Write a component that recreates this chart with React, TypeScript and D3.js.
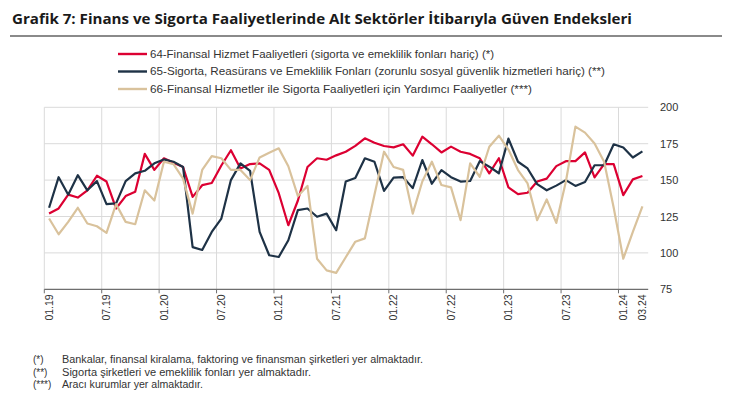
import React from "react";
import * as d3 from "d3";

const labels: string[] = [
  "01.19","02.19","03.19","04.19","05.19","06.19","07.19","08.19","09.19","10.19","11.19","12.19",
  "01.20","02.20","03.20","04.20","05.20","06.20","07.20","08.20","09.20","10.20","11.20","12.20",
  "01.21","02.21","03.21","04.21","05.21","06.21","07.21","08.21","09.21","10.21","11.21","12.21",
  "01.22","02.22","03.22","04.22","05.22","06.22","07.22","08.22","09.22","10.22","11.22","12.22",
  "01.23","02.23","03.23","04.23","05.23","06.23","07.23","08.23","09.23","10.23","11.23","12.23",
  "01.24","02.24","03.24",
];

const tickLabels: string[] = ["01.19","07.19","01.20","07.20","01.21","07.21","01.22","07.22","01.23","07.23","01.24","03.24"];
const gridLabels: string[] = ["01.19","07.19","01.20","07.20","01.21","07.21","01.22","07.22","01.23","07.23","01.24"];

const s64: number[] = [
  127, 130.5, 140, 138, 143, 153, 149, 130.5, 139, 142, 168, 157,
  165, 162, 159, 138.5, 146.5, 148, 160, 170.5, 158, 161, 161.5, 157,
  141, 119, 136, 159, 165, 164, 167, 169.5, 173.5, 178.7, 175.7, 173.4,
  172.5, 174.6, 166.8, 179.8, 174.6, 169, 173, 169.5, 168, 165, 154.6, 165,
  145, 140.4, 141.3, 149, 151, 159.6, 163, 163, 169, 151.8, 161, 161,
  139.7, 150.5, 152.8,
];
const s65: number[] = [
  131, 152, 140, 153.4, 143, 149.3, 133.5, 134, 149.3, 154.6, 156.4, 161.5,
  164.2, 162.6, 159, 104, 102, 114.4, 123.6, 150, 161.5, 156.4, 114.4, 98.4,
  97.2, 108.7, 129.4, 130.5, 124.8, 127, 115.6, 149, 151.5, 165, 162.6, 142.6,
  151.7, 152, 144.5, 163.8, 147.5, 156.8, 152, 149, 149.4, 163, 159.2, 154.7,
  178.5, 162.6, 158, 147.2, 143, 146.2, 150, 146, 148.7, 160.2, 160.2, 174.6,
  172.4, 165.5, 169.7,
];
const s66: number[] = [
  123.6, 112.8, 121.3, 131, 120.2, 118.3, 113.7, 133.5, 121.3, 119.7, 143, 136,
  162.6, 161, 151, 127, 157, 166.5, 165, 157, 157, 150, 165.6, 168.8,
  171.8, 159.5, 139, 146, 96, 88, 86.3, 97, 107.7, 110, 140, 169.5,
  159, 157, 127, 149, 162.6, 146.6, 145, 122.5, 161.5, 152.3, 172.9, 180.5,
  171, 156.9, 147.7, 122.5, 136.7, 120.6, 148.9, 186.7, 182.6, 175.2, 162.6, 131,
  96, 114.4, 132,
];

const seriesNames: string[] = [
  "64-Finansal Hizmet Faaliyetleri (sigorta ve emeklilik fonları hariç) (*)",
  "65-Sigorta, Reasürans ve Emeklilik Fonları (zorunlu sosyal güvenlik hizmetleri hariç) (**)",
  "66-Finansal Hizmetler ile Sigorta Faaliyetleri için Yardımcı Faaliyetler (***)",
];
const seriesColors: string[] = ["#dc0032", "#1e3246", "#d9c29c"];
const legendWidths: number[] = [344, 455, 382];

const yTicks: number[] = [75, 100, 125, 150, 175, 200];

const footMarks: string[] = ["(*)", "(**)", "(***)"];
const footTexts: string[] = [
  "Bankalar, finansal kiralama, faktoring ve finansman şirketleri yer almaktadır.",
  "Sigorta şirketleri ve emeklilik fonları yer almaktadır.",
  "Aracı kurumlar yer almaktadır.",
];
const footWidths: number[] = [361, 249, 141];

const title = "Grafik 7:  Finans ve Sigorta Faaliyetlerinde Alt Sektörler İtibarıyla Güven Endeksleri";

export default function App() {
  const W = 734, H = 406;
  const left = 44.3, right = 647.2, top = 107.3, bottom = 289.3;
  const x = d3.scaleBand<string>().domain(labels).range([left, right]).padding(0);
  const y = d3.scaleLinear().domain([75, 200]).range([bottom, top]);
  const cx = (l: string) => (x(l) as number) + x.bandwidth() / 2;
  const line = d3
    .line<number>()
    .x((_, i) => cx(labels[i]))
    .y((d) => y(d));
  const all = [s64, s65, s66];
  const font = "'Liberation Sans', Arial, sans-serif";

  return (
    <svg
      width={W}
      height={H}
      style={{ position: "absolute", left: 0, top: 0, background: "#fff" }}
      fontFamily={font}
    >
      <rect width={W} height={H} fill="#fff" />
      <text
        x={12}
        y={24}
        fontSize={15}
        fontWeight={700}
        fill="#1a1a1a"
        textLength={620}
        lengthAdjust="spacingAndGlyphs"
        fontFamily="'Open Sans', 'Liberation Sans', sans-serif"
      >
        {title}
      </text>
      <line x1={10} x2={722} y1={36} y2={36} stroke="#8a8a8a" strokeWidth={1.8} />

      {seriesNames.map((n, k) => (
        <g key={n} transform={`translate(0, ${54 + k * 17.5})`}>
          <line x1={118} x2={147} y1={0} y2={0} stroke={seriesColors[k]} strokeWidth={2.4} />
          <text
            x={150}
            y={3.8}
            fontSize={10.5}
            fill="#333"
            textLength={legendWidths[k]}
            lengthAdjust="spacingAndGlyphs"
          >
            {n}
          </text>
        </g>
      ))}

      {yTicks.filter((t) => t > 75).map((t) => (
        <line key={t} x1={left} x2={right + 1} y1={y(t)} y2={y(t)} stroke="#dadada" strokeWidth={1} />
      ))}
      {gridLabels.map((l) => (
        <line key={l} x1={x(l) as number} x2={x(l) as number} y1={top} y2={bottom} stroke="#dadada" strokeWidth={1} />
      ))}

      {yTicks.map((t) => (
        <text key={t} x={660} y={y(t) + 4} fontSize={11} fill="#333">
          {t}
        </text>
      ))}

      {all.map((s, k) => (
        <path
          key={k}
          d={line(s) as string}
          fill="none"
          stroke={seriesColors[k]}
          strokeWidth={2.2}
          strokeLinejoin="round"
        />
      ))}

      <line x1={left} x2={right + 1} y1={bottom} y2={bottom} stroke="#6e6e6e" strokeWidth={1.2} />
      {gridLabels.map((l) => (
        <line key={l} x1={x(l) as number} x2={x(l) as number} y1={bottom} y2={bottom + 4} stroke="#6e6e6e" strokeWidth={1} />
      ))}
      {tickLabels.map((l) => (
        <text
          key={l}
          transform={`translate(${cx(l)}, ${bottom + 5}) rotate(-90)`}
          textAnchor="end"
          dy="0.35em"
          fontSize={10.5}
          fill="#333"
        >
          {l}
        </text>
      ))}

      {footMarks.map((m, k) => (
        <g key={m}>
          <text x={33} y={363 + k * 12.5} fontSize={10} fill="#333">
            {m}
          </text>
          <text
            x={62}
            y={363 + k * 12.5}
            fontSize={10}
            fill="#333"
            textLength={footWidths[k]}
            lengthAdjust="spacingAndGlyphs"
          >
            {footTexts[k]}
          </text>
        </g>
      ))}
    </svg>
  );
}
